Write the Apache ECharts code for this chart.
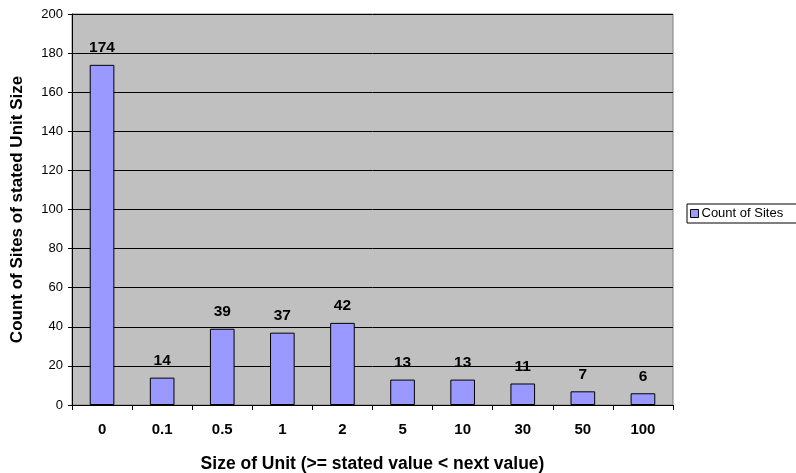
<!DOCTYPE html>
<html>
<head>
<meta charset="utf-8">
<script src="https://cdn.jsdelivr.net/npm/echarts@6/dist/echarts.min.js"></script>
<style>
html,body{margin:0;padding:0;background:#fff;}
#chart{width:796px;height:473px;}
</style>
</head>
<body>
<div id="chart"></div>
<script>
// Unit size buckets and how many sites fall into each
const categories = ['0', '0.1', '0.5', '1', '2', '5', '10', '30', '50', '100'];
const siteCounts = [174, 14, 39, 37, 42, 13, 13, 11, 7, 6];
const seriesName = 'Count of Sites';

const font = 'Liberation Sans, Arial, sans-serif';
const chart = echarts.init(document.getElementById('chart'));
chart.setOption({
  animation: false,
  textStyle: { fontFamily: font },
  grid: {
    left: 72, right: 123, top: 14, bottom: 68,
    outerBoundsMode: 'none', containLabel: false,
    backgroundColor: '#c0c0c0', show: true, borderColor: '#808080', borderWidth: 1
  },
  legend: {
    data: [{ name: seriesName, icon: 'rect' }],
    left: 687, top: 204,
    orient: 'vertical',
    backgroundColor: '#fff',
    borderColor: '#000', borderWidth: 1,
    padding: [3, 20, 3, 3],
    itemWidth: 8, itemHeight: 8, itemGap: 4,
    textStyle: { fontSize: 13, lineHeight: 12, color: '#000', fontFamily: font, padding: [0, 0, 0, -2] },
    itemStyle: { borderColor: '#000', borderWidth: 1 }
  },
  xAxis: {
    type: 'category',
    data: categories,
    name: 'Size of Unit (>= stated value < next value)',
    nameLocation: 'middle',
    nameGap: 50,
    nameTextStyle: { fontSize: 17.5, fontWeight: 'bold', color: '#000' },
    axisLine: { lineStyle: { color: '#000' } },
    axisTick: { show: true, inside: false, length: 5, lineStyle: { color: '#000' } },
    axisLabel: { fontSize: 15, fontWeight: 'bold', color: '#000', margin: 17 }
  },
  yAxis: {
    type: 'value',
    min: 0, max: 200, interval: 20,
    name: 'Count of Sites of stated Unit Size',
    nameLocation: 'middle',
    nameGap: 46,
    nameTextStyle: { fontSize: 17, fontWeight: 'bold', color: '#000' },
    axisLine: { show: true, lineStyle: { color: '#000' } },
    axisTick: { show: true, length: 4, lineStyle: { color: '#000' } },
    axisLabel: { fontSize: 13, color: '#000', margin: 9 },
    splitLine: { lineStyle: { color: '#000', width: 1 } }
  },
  series: [{
    name: seriesName,
    type: 'bar',
    data: siteCounts,
    barWidth: '41%',
    itemStyle: { color: '#9999ff', borderColor: '#000', borderWidth: 1 },
    label: { show: true, position: 'top', distance: 9, fontSize: 15.5, fontWeight: 'bold', color: '#000' }
  }]
});
</script>
</body>
</html>
